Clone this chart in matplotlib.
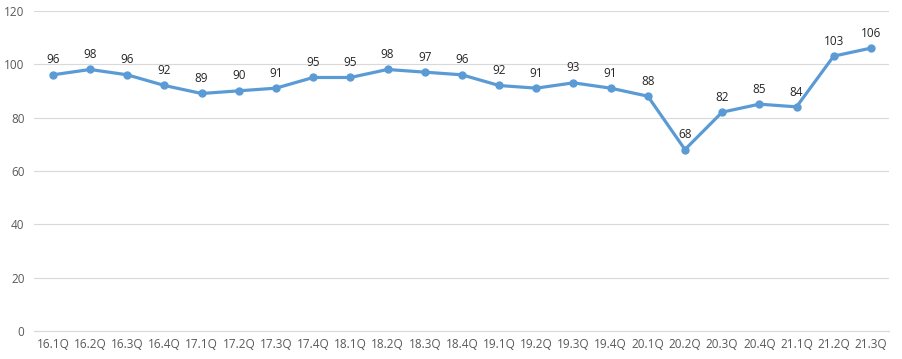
import matplotlib
matplotlib.use("Agg")
import matplotlib.pyplot as plt

categories = ["16.1Q", "16.2Q", "16.3Q", "16.4Q", "17.1Q", "17.2Q", "17.3Q", "17.4Q",
              "18.1Q", "18.2Q", "18.3Q", "18.4Q", "19.1Q", "19.2Q", "19.3Q", "19.4Q",
              "20.1Q", "20.2Q", "20.3Q", "20.4Q", "21.1Q", "21.2Q", "21.3Q"]
values = [96, 98, 96, 92, 89, 90, 91, 95, 95, 98, 97, 96, 92, 91, 93, 91,
          88, 68, 82, 85, 84, 103, 106]
yticks = [0, 20, 40, 60, 80, 100, 120]

plt.rcParams['font.family'] = ['Open Sans', 'DejaVu Sans']

fig = plt.figure(figsize=(9.03, 3.59), dpi=100)
ax = fig.add_axes([0.038, 0.078, 0.947, 0.892])

x = list(range(len(categories)))
ax.plot(x, values, color="#5B9BD5", linewidth=2.3, marker="o", markersize=5, zorder=3)
for xi, v in zip(x, values):
    ax.annotate(str(v), (xi, v), xytext=(0, 6), textcoords="offset points",
                ha="center", va="bottom", fontsize=8.5, color="#262626")

ax.set_xlim(-0.5, len(categories) - 0.5)
ax.set_ylim(0, 120)
ax.set_yticks(yticks)
ax.set_xticks(x)
ax.set_xticklabels(categories)
ax.grid(axis="y", color="#D9D9D9", linewidth=0.8)
ax.set_axisbelow(True)
for s in ["top", "right", "left"]:
    ax.spines[s].set_visible(False)
ax.spines["bottom"].set_color("#D9D9D9")
ax.tick_params(axis="both", length=0, labelsize=8.5, labelcolor="#595959")
ax.tick_params(axis="y", pad=7)
ax.tick_params(axis="x", pad=5)

fig.savefig("out.png", dpi=100)
